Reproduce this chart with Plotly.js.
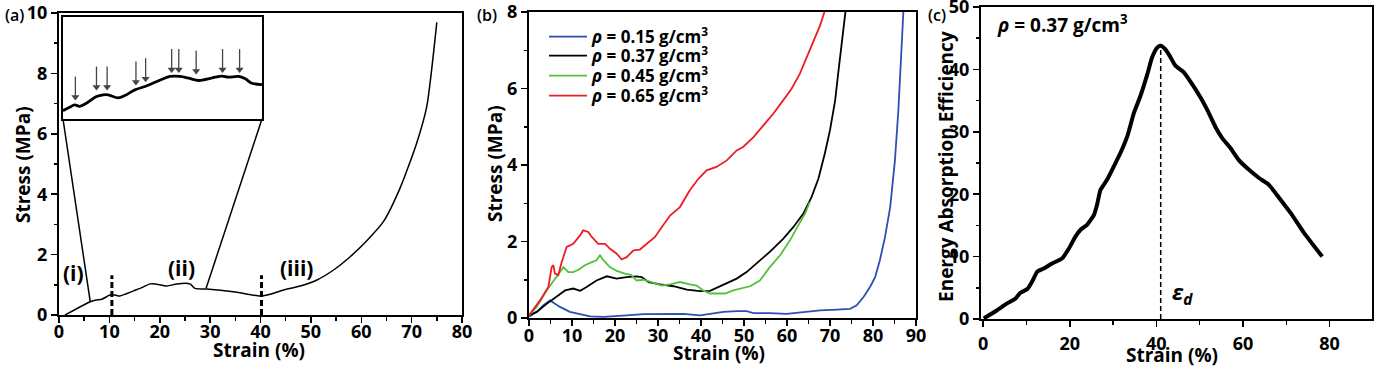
<!DOCTYPE html>
<html><head><meta charset="utf-8">
<script src="https://cdn.plot.ly/plotly-3.0.1.min.js"></script>
<style>html,body{margin:0;padding:0;background:#fff}#chart{width:1378px;height:368px}</style>
</head><body><div id="chart"></div>
<script>
// ---------- Panel (a): stress-strain curve ----------
const strainA = [1.2, 6.2, 7.4, 8.5, 10.1, 11.1, 12.1, 14.8, 16.1, 18.1, 19.1, 21.4, 23.4, 26.0, 27.0, 29.3, 34.6, 39.9, 41.3, 44.6, 47.9, 51.2, 54.5, 57.8, 61.1, 64.4, 67.7, 71.0, 73.0, 75.0];
const stressA = [0.0, 0.44, 0.5, 0.52, 0.66, 0.66, 0.63, 0.8, 0.88, 1.03, 1.03, 0.96, 1.03, 1.03, 0.88, 0.86, 0.77, 0.63, 0.66, 0.83, 0.96, 1.16, 1.49, 1.93, 2.46, 3.09, 4.2, 5.69, 6.9, 9.69];
// inset (zoom of the plateau region)
const strainInset = [6.2, 6.97, 7.55, 8.13, 8.91, 10.07, 10.84, 11.42, 12.58, 13.35, 14.51, 15.67, 16.44, 17.6, 18.57, 19.73, 20.7, 21.86, 22.63, 23.79, 24.56, 25.33, 26.49, 27.27, 28.04, 29.2];
const stressInset = [0.44, 0.497, 0.537, 0.514, 0.566, 0.68, 0.709, 0.709, 0.657, 0.697, 0.795, 0.852, 0.898, 0.972, 1.024, 1.024, 0.995, 0.955, 0.972, 1.012, 1.029, 1.012, 1.024, 0.984, 0.909, 0.886];
const arrowStrain = [7.63, 10.07, 11.30, 14.63, 15.75, 18.76, 19.58, 21.59, 24.64, 26.61];
const arrowStress = [0.612, 0.783, 0.783, 0.869, 0.926, 1.081, 1.081, 1.058, 1.081, 1.081];
const phaseBoundaries = [10.5, 40.2];
const phaseLabels = ['(i)', '(ii)', '(iii)'];
const phaseLabelStrain = [2.8, 24.4, 47.2];
const phaseLabelStress = [1.39, 1.56, 1.56];

// ---------- Panel (b): densities ----------
const densityLabels = ['0.15', '0.37', '0.45', '0.65'];
const strainB015 = [0, 1.8, 3.3, 4.9, 6.05, 7.2, 9.5, 11.9, 14.2, 17.3, 19.6, 22.7, 26.6, 31.2, 35.9, 39.8, 42.1, 45.2, 48.3, 50.6, 52.2, 56.0, 59.9, 63.8, 67.7, 71.6, 74.7, 76.2, 77.8, 79.3, 80.5, 81.6, 82.8, 84.0, 85.1, 85.9, 86.5, 87.1, 87.2];
const stressB015 = [0.03, 0.16, 0.33, 0.46, 0.37, 0.29, 0.16, 0.10, 0.04, 0.03, 0.04, 0.07, 0.10, 0.11, 0.11, 0.07, 0.10, 0.16, 0.18, 0.18, 0.13, 0.13, 0.11, 0.16, 0.20, 0.22, 0.24, 0.33, 0.55, 0.81, 1.07, 1.51, 2.12, 2.90, 4.12, 5.43, 6.82, 8.0, 8.3];
const strainB037 = [0, 1.8, 4.1, 6.4, 8.4, 10.3, 11.9, 13.4, 15.7, 18.1, 20.4, 22.7, 25.0, 26.2, 27.8, 30.5, 33.6, 36.7, 39.8, 42.1, 45.2, 48.3, 50.6, 52.9, 56.0, 59.1, 61.5, 63.8, 65.7, 67.3, 68.8, 70.0, 71.2, 71.9, 72.7, 73.5, 73.9];
const stressB037 = [0.07, 0.16, 0.37, 0.55, 0.72, 0.77, 0.71, 0.81, 0.98, 1.09, 1.03, 1.07, 1.09, 1.07, 0.94, 0.88, 0.83, 0.74, 0.70, 0.71, 0.88, 1.03, 1.20, 1.42, 1.73, 2.07, 2.38, 2.73, 3.16, 3.64, 4.30, 4.91, 5.69, 6.39, 7.17, 8.0, 8.3];
const strainB045 = [0, 1.8, 4.1, 6.05, 7.2, 8.0, 9.15, 10.3, 11.5, 13.0, 14.6, 15.7, 16.5, 17.3, 18.8, 20.4, 22.3, 23.8, 25.0, 26.6, 28.5, 30.9, 32.8, 35.1, 37.4, 39.0, 40.5, 42.1, 44.0, 45.6, 47.5, 49.5, 51.4, 53.7, 56.0, 58.4, 60.7, 62.6, 64.2, 65.3];
const stressB045 = [0.07, 0.29, 0.72, 1.03, 1.20, 1.33, 1.20, 1.20, 1.26, 1.38, 1.46, 1.51, 1.64, 1.51, 1.33, 1.23, 1.16, 1.12, 0.98, 1.00, 0.94, 0.85, 0.88, 0.94, 0.88, 0.85, 0.72, 0.64, 0.64, 0.64, 0.72, 0.77, 0.83, 0.98, 1.33, 1.64, 2.03, 2.42, 2.73, 3.03];
const strainB065 = [0, 2.56, 4.5, 5.27, 5.66, 6.05, 6.8, 7.6, 8.76, 10.3, 11.86, 12.6, 13.8, 14.6, 16.1, 17.7, 18.85, 20.4, 21.55, 22.7, 24.3, 25.8, 27.4, 29.3, 30.9, 32.8, 35.1, 37.4, 39.4, 41.3, 43.6, 46.0, 48.3, 49.8, 52.2, 54.5, 56.8, 59.1, 61.1, 63.0, 64.6, 66.1, 67.7, 68.7, 69.6];
const stressB065 = [0.07, 0.46, 0.81, 1.33, 1.38, 1.16, 1.12, 1.46, 1.86, 1.94, 2.16, 2.29, 2.25, 2.12, 1.94, 1.94, 1.81, 1.68, 1.53, 1.59, 1.77, 1.79, 1.94, 2.12, 2.38, 2.68, 2.90, 3.34, 3.64, 3.86, 3.95, 4.12, 4.38, 4.47, 4.73, 5.04, 5.34, 5.69, 6.00, 6.39, 6.83, 7.22, 7.65, 8.0, 8.3];

// ---------- Panel (c): energy absorption efficiency ----------
const strainC = [0.15, 3.2, 5.5, 7.5, 8.6, 10.2, 11.3, 12.5, 14.0, 15.9, 18.2, 19.8, 21.3, 22.5, 24.0, 25.6, 26.3, 27.1, 28.6, 30.2, 31.7, 33.3, 34.8, 36.3, 37.9, 39.0, 40.2, 41.0, 42.1, 43.3, 44.4, 46.4, 48.3, 50.2, 51.7, 53.7, 55.2, 57.1, 59.0, 61.4, 63.7, 66.0, 68.7, 71.0, 74.1, 78.3];
const effC = [0.1, 1.4, 2.5, 3.3, 4.2, 4.8, 6.0, 7.6, 8.1, 8.9, 9.7, 11.3, 13.2, 14.3, 15.1, 16.7, 18.3, 20.7, 22.3, 24.5, 26.6, 29.3, 33.0, 35.7, 39.2, 41.9, 43.5, 43.8, 43.2, 41.9, 40.6, 39.5, 37.6, 35.5, 33.6, 30.7, 29.0, 27.4, 25.5, 23.9, 22.6, 21.5, 19.1, 17.0, 13.8, 10.0];

const FONT = '"Open Sans", Lato, "DejaVu Sans", sans-serif';
const W = 1378, H = 368;
const px = v => v / W;            // horizontal pixel -> paper
const py = v => 1 - v / H;        // vertical pixel (from top) -> paper

const domA = {x: [px(59), px(462)], y: [py(315), py(13)]};
const domB = {x: [px(529), px(916)], y: [py(318), py(12)]};
const domC = {x: [px(981), px(1372)], y: [py(319), py(7)]};
const domI = {x: [px(63), px(262)], y: [py(119), py(17)]};

const rangeA = {x: [0, 80], y: [0, 10]};
const rangeI = {x: [6.2, 29.2], y: [0.297, 2.04]};

const bold = (size, extra) => Object.assign({family: FONT, size: size, color: '#000', weight: 700}, extra || {});

function axis(extra, minorDtick) {
  return Object.assign({
    showline: true, linecolor: '#000', linewidth: 2, mirror: true,
    ticks: 'outside', ticklen: 6, tickwidth: 1.5, tickcolor: '#000',
    showgrid: false, zeroline: false, fixedrange: true, ticklabeloverflow: 'allow',
    tickfont: bold(18),
    minor: {ticks: 'outside', ticklen: 3.5, tickwidth: 1.5, tickcolor: '#000', showgrid: false, dtick: minorDtick}
  }, extra);
}

const traces = [
  {x: strainA, y: stressA, xaxis: 'x', yaxis: 'y', mode: 'lines', line: {color: '#000', width: 1.5, shape: 'spline', smoothing: 0.6}, showlegend: false},
  {x: strainInset, y: stressInset, xaxis: 'x4', yaxis: 'y4', mode: 'lines', line: {color: '#000', width: 2.8, shape: 'spline'}, showlegend: false},
];
// arrows in the inset: shafts + heads (24 px long, converted to inset units)
const insetPxH = (domI.y[1] - domI.y[0]) * H;
const perPx = (rangeI.y[1] - rangeI.y[0]) / insetPxH;
const shaftX = [], shaftY = [], headY = [];
arrowStrain.forEach((x, i) => {
  shaftX.push(x, x, null);
  shaftY.push(arrowStress[i] + 24 * perPx, arrowStress[i] + 3 * perPx, null);
  headY.push(arrowStress[i] + 3.5 * perPx);
});
traces.push({x: shaftX, y: shaftY, xaxis: 'x4', yaxis: 'y4', mode: 'lines', line: {color: '#444', width: 1.3}, showlegend: false});
traces.push({x: arrowStrain, y: headY, xaxis: 'x4', yaxis: 'y4', mode: 'markers', marker: {symbol: 'triangle-down', size: 7, color: '#444', line: {width: 0}}, showlegend: false});

const bSeries = [
  [strainB015, stressB015, '#2d4fb3'],
  [strainB037, stressB037, '#000000'],
  [strainB045, stressB045, '#56bf3a'],
  [strainB065, stressB065, '#ee1c24']
];
const legendIds = ['legend', 'legend2', 'legend3', 'legend4'];
const legendRowsPx = [37, 56, 76, 96];
bSeries.forEach((s, i) => traces.push({
  x: s[0], y: s[1], xaxis: 'x2', yaxis: 'y2', mode: 'lines',
  line: {color: s[2], width: 1.8},
  name: '<i>ρ</i> = ' + densityLabels[i] + ' g/cm<sup>3</sup>', showlegend: true, legend: legendIds[i]
}));
traces.push({x: strainC, y: effC, xaxis: 'x3', yaxis: 'y3', mode: 'lines', line: {color: '#000', width: 4, shape: 'spline', smoothing: 0.5}, showlegend: false});

// connectors from inset box corners to zoomed curve section (in axis-a data coords)
function paperToA(p, letter) {
  const d = domA[letter], r = rangeA[letter];
  return r[0] + (p - d[0]) / (d[1] - d[0]) * (r[1] - r[0]);
}
const insetBL = [paperToA(domI.x[0], 'x'), paperToA(domI.y[0], 'y')];
const insetBR = [paperToA(domI.x[1], 'x'), paperToA(domI.y[0], 'y')];
const nI = strainInset.length - 1;

const shapes = [
  {type: 'line', xref: 'x', yref: 'y', x0: insetBL[0], y0: insetBL[1], x1: strainInset[0], y1: stressInset[0], line: {color: '#000', width: 1.5}},
  {type: 'line', xref: 'x', yref: 'y', x0: insetBR[0], y0: insetBR[1], x1: strainInset[nI], y1: stressInset[nI], line: {color: '#000', width: 1.5}},
];
phaseBoundaries.forEach(b => shapes.push({type: 'line', xref: 'x', yref: 'y', x0: b, x1: b, y0: 0, y1: 1.32, line: {color: '#000', width: 3, dash: '6px,3px'}}));
// peak of efficiency curve -> densification strain
let iMax = 0; effC.forEach((v, i) => { if (v > effC[iMax]) iMax = i; });
shapes.push({type: 'line', xref: 'x3', yref: 'y3', x0: strainC[iMax], x1: strainC[iMax], y0: 0, y1: effC[iMax], line: {color: '#000', width: 1.5, dash: '5px,3px'}});

const annotations = [];
const ann = o => annotations.push(Object.assign({showarrow: false, xanchor: 'center', yanchor: 'middle'}, o));
phaseLabels.forEach((t, i) => ann({xref: 'x', yref: 'y', x: phaseLabelStrain[i], y: phaseLabelStress[i], text: t, font: bold(21)}));
ann({xref: 'x3', yref: 'y3', x: 2.8, y: 47.2, xanchor: 'left', text: '<i>ρ</i> = 0.37 g/cm<sup>3</sup>', font: bold(19)});
ann({xref: 'x3', yref: 'y3', x: 46.0, y: 4.1, text: '<i>ε</i><sub><i>d</i></sub>', font: bold(22)});
[['(a)', 14], ['(b)', 487], ['(c)', 937]].forEach(p => ann({xref: 'paper', yref: 'paper', x: px(p[1]), y: py(15), text: p[0], font: bold(16, {weight: 600})}));
// axis titles
const axisTitles = [
  ['Strain (%)', 259, 350, 0], ['Stress (MPa)', 23, 165, -90],
  ['Strain (%)', 719, 353, 0], ['Stress (MPa)', 495, 164, -90],
  ['Strain (%)', 1172, 355, 0], ['Energy Absorption Efficiency', 946, 167, -90]
];
axisTitles.forEach(t => ann({xref: 'paper', yref: 'paper', x: px(t[1]), y: py(t[2]), text: t[0], textangle: t[3], font: bold(19)}));

const layout = {
  width: W, height: H, margin: {l: 0, r: 0, t: 0, b: 0},
  paper_bgcolor: '#fff', plot_bgcolor: 'rgba(0,0,0,0)',
  font: {family: FONT, color: '#000'},
  xaxis: axis({domain: domA.x, range: rangeA.x, dtick: 10, anchor: 'y', ticklabelstandoff: -7}, 5),
  yaxis: axis({domain: domA.y, range: rangeA.y, dtick: 2, anchor: 'x'}, 1),
  xaxis2: axis({domain: domB.x, range: [0, 90], dtick: 10, anchor: 'y2', ticklabelstandoff: -6}, 5),
  yaxis2: axis({domain: domB.y, range: [0, 8], dtick: 2, anchor: 'x2'}, 1),
  xaxis3: axis({domain: domC.x, range: [-0.5, 89.8], dtick: 20, anchor: 'y3', ticklabelstandoff: 1}, 10),
  yaxis3: axis({domain: domC.y, range: [0, 50], dtick: 10, anchor: 'x3'}, 5),
  xaxis4: {domain: domI.x, range: rangeI.x, anchor: 'y4', showline: true, mirror: true, linecolor: '#000', linewidth: 2, showticklabels: false, ticks: '', showgrid: false, zeroline: false, fixedrange: true},
  yaxis4: {domain: domI.y, range: rangeI.y, anchor: 'x4', showline: true, mirror: true, linecolor: '#000', linewidth: 2, showticklabels: false, ticks: '', showgrid: false, zeroline: false, fixedrange: true},
  shapes: shapes, annotations: annotations
};
legendIds.forEach((id, i) => {
  layout[id] = {x: px(544), y: py(legendRowsPx[i]), xanchor: 'left', yanchor: 'middle', bgcolor: 'rgba(0,0,0,0)', font: bold(17), itemwidth: 38};
});
Plotly.newPlot('chart', traces, layout, {displayModeBar: false, staticPlot: true});
</script></body></html>
